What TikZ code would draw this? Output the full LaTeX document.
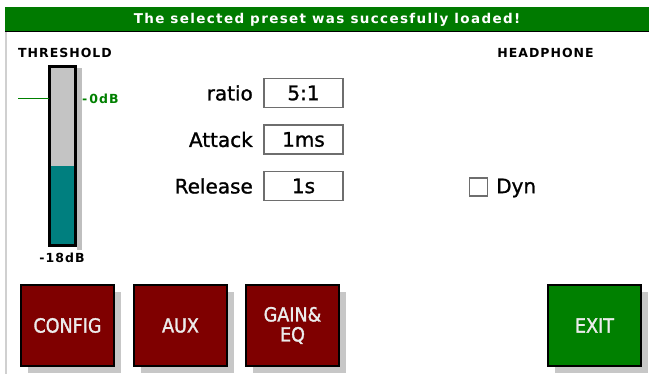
\documentclass[tikz,border=0pt]{standalone}
\usepackage{fontspec}
\setmainfont{DejaVu Sans}
\newfontfamily\pixfont[LetterSpace=8]{DejaVu Sans}
\newfontfamily\bannerfont[LetterSpace=10]{DejaVu Sans}
\newfontfamily\medfont[FakeBold=1.2]{DejaVu Sans}
\newfontfamily\btnfont[FakeBold=1.6]{DejaVu Sans Condensed}
\usetikzlibrary{shadows}
\definecolor{okgreen}{HTML}{007A00}
\definecolor{exitgreen}{HTML}{008000}
\definecolor{btnred}{HTML}{7F0000}
\definecolor{meterteal}{HTML}{007F7F}
\definecolor{metergray}{HTML}{C4C4C4}
\definecolor{framegray}{HTML}{D0D0D0}
\definecolor{boxgray}{HTML}{6E6E6E}
\definecolor{btntext}{HTML}{ECECEC}
\tikzset{
  pixlabel/.style={font=\pixfont\bfseries\fontsize{12.5}{14}\selectfont, inner sep=0pt},
  fieldlabel/.style={font=\medfont\fontsize{20}{22}\selectfont, inner sep=0pt, anchor=east},
  fieldbox/.style={draw=boxgray, line width=1.6pt, minimum width=79pt, minimum height=29pt,
    inner sep=0pt, font=\medfont\fontsize{20}{22}\selectfont},
  panelbtn/.style={draw=black, line width=2pt, minimum width=93pt, minimum height=81pt,
    inner sep=0pt, text=btntext, align=center,
    font=\btnfont\fontsize{19.5}{20}\selectfont,
    drop shadow={shadow xshift=7pt, shadow yshift=-7pt, fill=black!22, opacity=1}},
}
\begin{document}
\begin{tikzpicture}[x=1pt,y=-1pt]
\useasboundingbox (0,0) rectangle (649,374);
\fill[white] (0,0) rectangle (649,374);

% left frame edge
\draw[framegray, line width=1.5pt] (6,31) -- (6,374);

% status banner
\node[fill=okgreen, minimum width=644pt, minimum height=24pt, inner sep=0pt,
  text=white, font=\bannerfont\bfseries\fontsize{13.5}{14}\selectfont] (msg) at (327,19.5)
  {The selected preset was succesfully loaded!};
\draw[black, line width=1.5pt] (msg.south west) -- (msg.south east);

% threshold meter
\node[pixlabel] (thr) at (65,53) {THRESHOLD};
\fill[black!25] (77,68) rectangle (82,250);
\node[fill=metergray, minimum width=26pt, minimum height=179pt, inner sep=0pt] (meter) at (62.5,156) {};
\fill[meterteal] (meter.west |- 0,166) rectangle (meter.south east);
\draw[black, line width=3pt] (meter.north west) rectangle (meter.south east);
\coordinate (mark) at (18,99);
\draw[exitgreen, line width=1pt] (mark) -- (meter.west |- mark);
\node[pixlabel, text=exitgreen, anchor=west] (zero) at (82,99) {-\,0dB};
\node[pixlabel] (low) at (62,258) {-18dB};

% compressor fields
\node[fieldlabel] (ratioL) at (253,93) {ratio};
\node[fieldbox] (ratioV) at (303.5,93) {5:1};
\node[fieldlabel] (attackL) at (253,139.5) {Attack};
\node[fieldbox] (attackV) at (303.5,139.5) {1ms};
\node[fieldlabel] (releaseL) at (253,186) {Release};
\node[fieldbox] (releaseV) at (303.5,186) {1s};

% headphone section
\node[pixlabel] (hp) at (545.5,53) {HEADPHONE};
\node[draw=boxgray, line width=1.5pt, minimum size=18pt, inner sep=0pt] (dyncb) at (478.5,187) {};
\node[font=\medfont\fontsize{20}{22}\selectfont, inner sep=0pt, anchor=west] (dyn) at (496,188) {Dyn};

% navigation buttons
\node[panelbtn, fill=btnred] (config) at (67.5,325.5) {CONFIG};
\node[panelbtn, fill=btnred] (aux) at (180.5,325.5) {AUX};
\node[panelbtn, fill=btnred] (gaineq) at (292.5,325.5) {GAIN\&\\EQ};
\node[panelbtn, fill=exitgreen] (exit) at (594.5,325.5) {EXIT};
\end{tikzpicture}
\end{document}
